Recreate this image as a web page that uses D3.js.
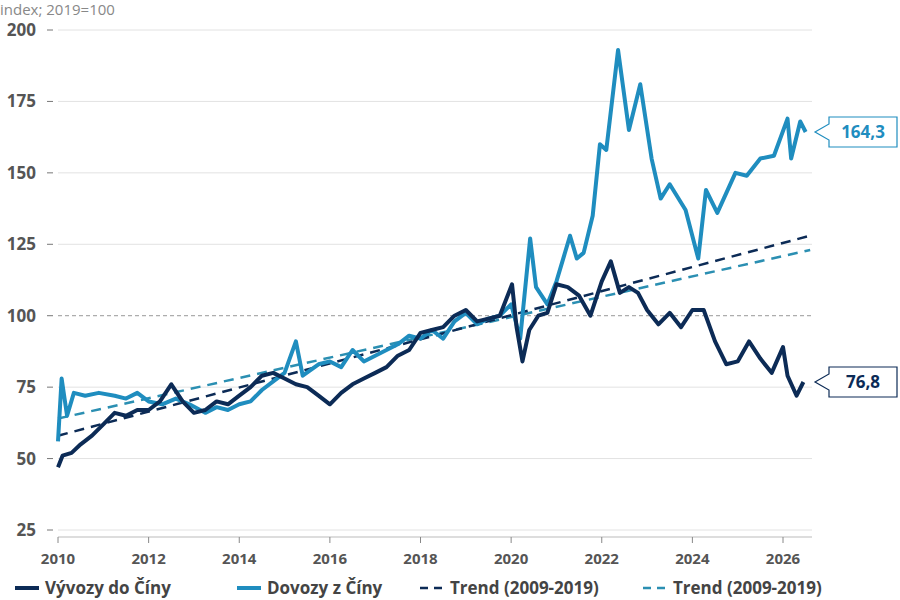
<!DOCTYPE html>
<html><head><meta charset="utf-8">
<script src="https://cdn.jsdelivr.net/npm/d3@7"></script>
<style>body{margin:0;background:#fff;font-family:"Open Sans",sans-serif}</style>
</head><body><div id="chart"></div>
<script>
var exportsT = [2010.0,2010.1,2010.3,2010.5,2010.75,2011.0,2011.25,2011.5,2011.75,2012.0,2012.25,2012.5,2012.75,2013.0,2013.25,2013.5,2013.75,2014.0,2014.25,2014.5,2014.75,2015.0,2015.25,2015.5,2015.75,2016.0,2016.25,2016.5,2016.75,2017.0,2017.25,2017.5,2017.75,2018.0,2018.25,2018.5,2018.75,2019.0,2019.25,2019.5,2019.75,2020.02,2020.12,2020.25,2020.4,2020.6,2020.8,2021.0,2021.25,2021.5,2021.75,2022.0,2022.2,2022.4,2022.6,2022.8,2023.0,2023.25,2023.5,2023.75,2024.0,2024.25,2024.5,2024.75,2025.0,2025.25,2025.5,2025.75,2026.0,2026.1,2026.3,2026.45];
var exportsV = [47,51,52,55,58,62,66,65,67,67,70,76,70,66,67,70,69,72,75,79,80,78,76,75,72,69,73,76,78,80,82,86,88,94,95,96,100,102,98,99,100,111,96,84,95,100,101,111,110,107,100,112,119,108,110,108,102,97,101,96,102,102,91,83,84,91,85,80,89,79,72,76.8];
var importsT = [2010.0,2010.08,2010.2,2010.35,2010.6,2010.9,2011.25,2011.5,2011.75,2012.0,2012.3,2012.6,2012.9,2013.25,2013.5,2013.75,2014.0,2014.25,2014.5,2014.75,2015.0,2015.25,2015.4,2015.75,2016.0,2016.25,2016.5,2016.75,2017.0,2017.25,2017.5,2017.75,2018.0,2018.25,2018.5,2018.75,2019.0,2019.25,2019.5,2019.75,2020.0,2020.2,2020.42,2020.55,2020.8,2021.0,2021.15,2021.3,2021.45,2021.6,2021.8,2021.96,2022.1,2022.36,2022.6,2022.85,2023.1,2023.3,2023.5,2023.85,2024.13,2024.3,2024.55,2024.95,2025.2,2025.5,2025.8,2026.1,2026.18,2026.38,2026.5];
var importsV = [56,78,65,73,72,73,72,71,73,70,69,71,69,66,68,67,69,70,74,77,80,91,79,83,84,82,88,84,86,88,90,93,92,95,92,98,101,97,99,100,104,92,127,110,104,112,120,128,120,122,135,160,158,193,165,181,155,141,146,137,120,144,136,150,149,155,156,169,155,168,164.3];
var trendT = [2010, 2026.6];
var trendExportsV = [58, 128];
var trendImportsV = [64, 123];
var yTicks = [25, 50, 75, 100, 125, 150, 175, 200];
var xTicks = [2010, 2012, 2014, 2016, 2018, 2020, 2022, 2024, 2026];
var legendLabels = ["Vývozy do Číny", "Dovozy z Číny", "Trend (2009-2019)", "Trend (2009-2019)"];

var navy = "#0c2b56", teal = "#1f8dbf", tealTrend = "#2b8fb2";
var svg = d3.select("#chart").append("svg").attr("width", 900).attr("height", 600);
var x = d3.scaleLinear().domain([2010, 2026.64]).range([58, 812]);
var y = d3.scaleLinear().domain([25, 200]).range([530, 30]);

svg.append("text").attr("x", 0).attr("y", 15).attr("fill", "#888").attr("font-size", 15).text("index; 2019=100");

var grid = svg.append("g");
yTicks.forEach(function(t) {
  grid.append("line").attr("x1", 47).attr("x2", 53).attr("y1", y(t)).attr("y2", y(t)).attr("stroke", "#777");
  grid.append("line").attr("x1", 58).attr("x2", 812).attr("y1", y(t)).attr("y2", y(t))
    .attr("stroke", t === 100 ? "#999" : "#e2e2e2").attr("stroke-dasharray", t === 100 ? "4,3" : null);
  grid.append("text").attr("x", 36).attr("y", y(t) + 6).attr("text-anchor", "end")
    .attr("font-size", 17).attr("font-weight", "bold").attr("fill", "#555").text(t);
});
svg.append("line").attr("x1", 58).attr("x2", 812).attr("y1", 537).attr("y2", 537).attr("stroke", "#bbb");
xTicks.forEach(function(t) {
  svg.append("line").attr("x1", x(t)).attr("x2", x(t)).attr("y1", 537).attr("y2", 543).attr("stroke", "#888");
  svg.append("text").attr("x", x(t)).attr("y", 564).attr("text-anchor", "middle")
    .attr("font-size", 15).attr("font-weight", "bold").attr("fill", "#555").text(t);
});

var line = d3.line().x(function(d) { return x(d[0]); }).y(function(d) { return y(d[1]); });
function pts(ts, vs) { return ts.map(function(t, i) { return [t, vs[i]]; }); }

svg.append("path").attr("d", line(pts(trendT, trendImportsV))).attr("fill", "none").attr("stroke", tealTrend).attr("stroke-width", 2.5).attr("stroke-dasharray", "10,7");
svg.append("path").attr("d", line(pts(trendT, trendExportsV))).attr("fill", "none").attr("stroke", navy).attr("stroke-width", 2.5).attr("stroke-dasharray", "10,7");
svg.append("path").attr("d", line(pts(importsT, importsV))).attr("fill", "none").attr("stroke", teal).attr("stroke-width", 4).attr("stroke-linejoin", "round");
svg.append("path").attr("d", line(pts(exportsT, exportsV))).attr("fill", "none").attr("stroke", navy).attr("stroke-width", 4).attr("stroke-linejoin", "round");

function callout(v, color, label) {
  var cy = y(v), x0 = 815;
  svg.append("path").attr("d", "M" + x0 + "," + cy + "L" + (x0 + 14) + "," + (cy - 8) + "V" + (cy - 15) + "H" + 897 + "V" + (cy + 15) + "H" + (x0 + 14) + "V" + (cy + 8) + "Z")
    .attr("fill", "#fff").attr("stroke", color).attr("stroke-width", 1.2);
  svg.append("text").attr("x", 863).attr("y", cy + 6).attr("text-anchor", "middle").attr("font-size", 17)
    .attr("font-weight", "bold").attr("fill", color).text(label);
}
callout(importsV[importsV.length - 1], teal, "164,3");
callout(exportsV[exportsV.length - 1], navy, "76,8");

var lg = [[15, navy, false], [237, teal, false], [420, navy, true], [643, tealTrend, true]];
lg.forEach(function(l, i) {
  svg.append("line").attr("x1", l[0]).attr("x2", l[0] + 24).attr("y1", 588).attr("y2", 588)
    .attr("stroke", l[1]).attr("stroke-width", l[2] ? 2.5 : 4).attr("stroke-dasharray", l[2] ? "8,6" : null);
  svg.append("text").attr("x", l[0] + 30).attr("y", 594).attr("font-size", 17).attr("font-weight", "bold")
    .attr("fill", "#444").text(legendLabels[i]);
});
</script></body></html>
